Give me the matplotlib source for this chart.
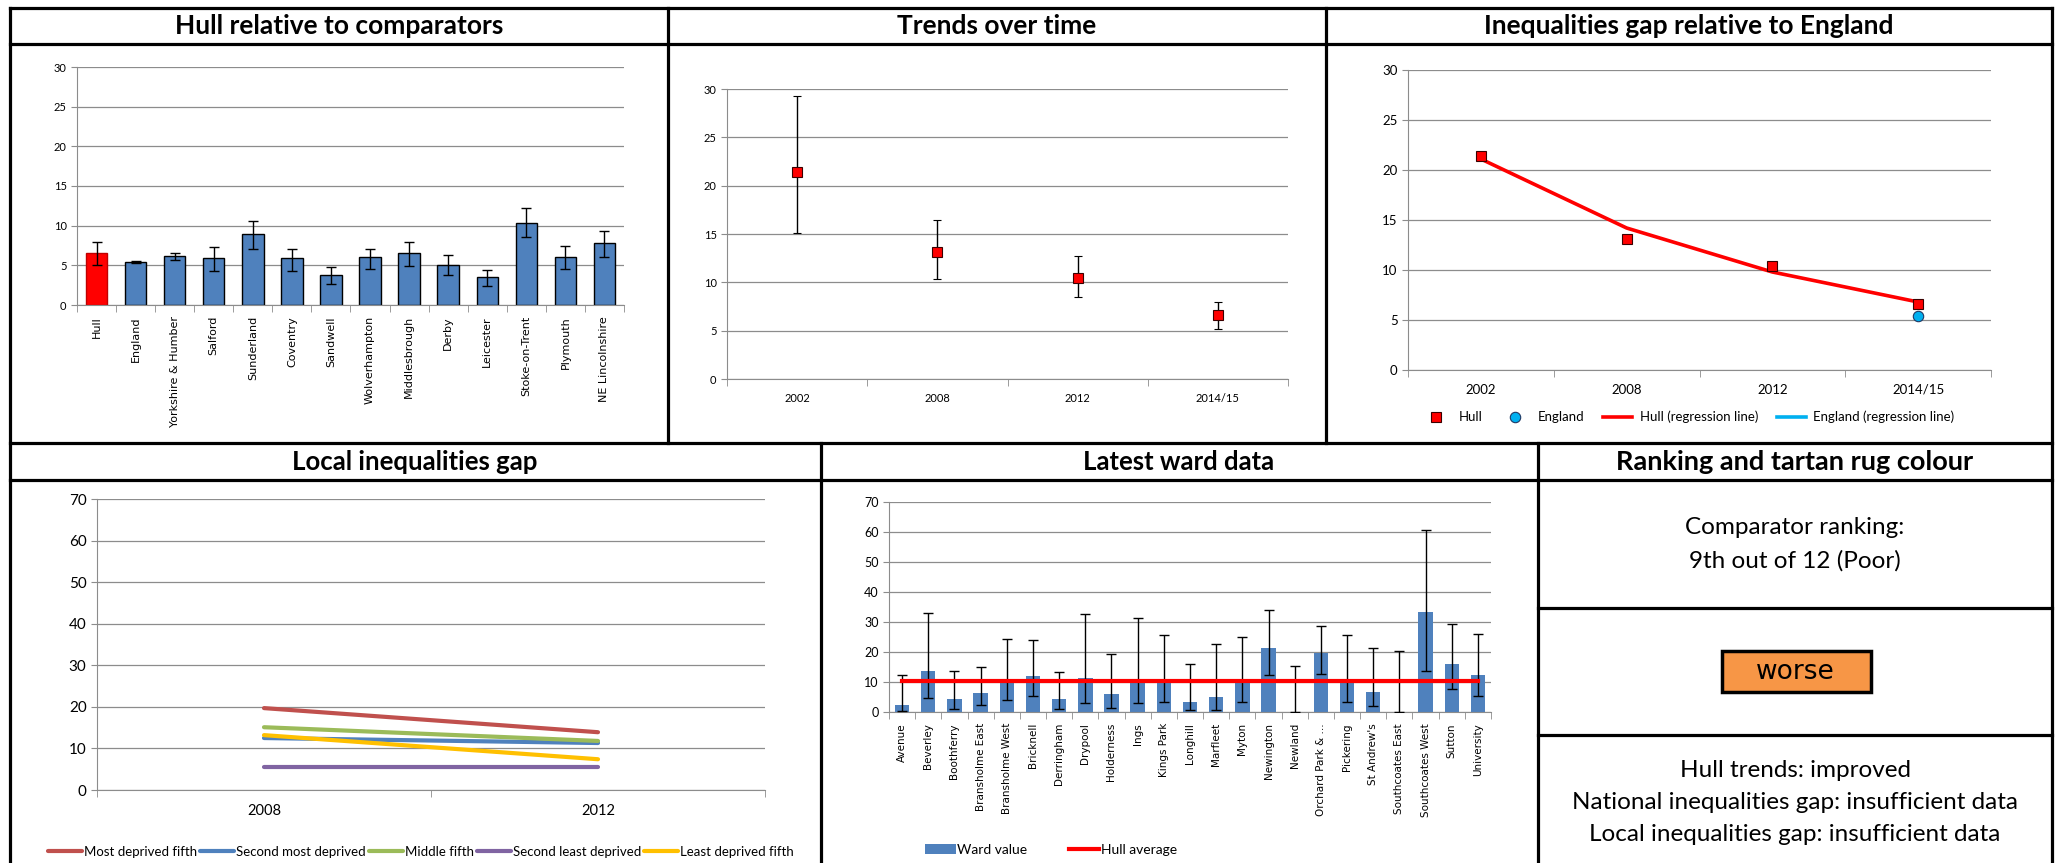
import matplotlib.pyplot as plt
import numpy as np
from matplotlib.lines import Line2D
from matplotlib.patches import Rectangle

W, H = 2060, 863

# Hull relative to comparators
areas = ['Hull', 'England', 'Yorkshire & Humber', 'Salford', 'Sunderland', 'Coventry', 'Sandwell',
         'Wolverhampton', 'Middlesbrough', 'Derby', 'Leicester', 'Stoke-on-Trent', 'Plymouth',
         'NE Lincolnshire']
area_val = [6.6, 5.4, 6.2, 5.9, 8.9, 5.9, 3.8, 6.0, 6.5, 5.1, 3.5, 10.3, 6.1, 7.8]
area_lo = [5.1, 5.3, 5.7, 4.3, 7.0, 4.3, 2.6, 4.6, 4.9, 3.8, 2.4, 8.6, 4.5, 6.1]
area_hi = [8.0, 5.5, 6.6, 7.3, 10.6, 7.1, 4.8, 7.1, 8.0, 6.3, 4.4, 12.2, 7.4, 9.3]

# trends over time / inequalities gap
years = ['2002', '2008', '2012', '2014/15']
hull_val = [21.4, 13.1, 10.4, 6.6]
hull_lo = [15.1, 10.3, 8.5, 5.2]
hull_hi = [29.3, 16.4, 12.7, 8.0]
hull_reg = [21.1, 14.2, 9.8, 6.8]
england_val = [np.nan, np.nan, np.nan, 5.4]

# local inequalities gap
local_years = ['2008', '2012']
most_deprived = [19.7, 13.9]
second_most = [12.5, 11.3]
middle_fifth = [15.1, 11.8]
second_least = [5.6, 5.6]
least_deprived = [13.2, 7.4]

# latest ward data
wards = ['Avenue', 'Beverley', 'Boothferry', 'Bransholme East', 'Bransholme West', 'Bricknell',
         'Derringham', 'Drypool', 'Holderness', 'Ings', 'Kings Park', 'Longhill', 'Marfleet',
         'Myton', 'Newington', 'Newland', 'Orchard Park & ...', 'Pickering', "St Andrew's",
         'Southcoates East', 'Southcoates West', 'Sutton', 'University']
ward_val = [2.4, 13.6, 4.2, 6.4, 10.3, 12.0, 4.2, 11.3, 6.1, 10.2, 10.2, 3.4, 4.9, 10.2,
            21.3, 0.0, 19.6, 10.2, 6.8, 0.0, 33.3, 16.1, 12.4]
ward_lo = [0.3, 4.8, 1.1, 2.4, 4.1, 5.3, 1.1, 3.0, 1.4, 3.0, 3.3, 0.8, 0.8, 3.3,
           12.4, 0.0, 12.7, 3.3, 1.9, 0.0, 13.8, 7.8, 5.4]
ward_hi = [12.3, 33.1, 13.8, 14.9, 24.2, 23.9, 13.4, 32.8, 19.4, 31.3, 25.8, 16.0, 22.7, 24.9,
           33.9, 15.3, 28.7, 25.8, 21.2, 20.4, 60.7, 29.4, 26.1]
hull_average = 10.4

GRID = '#8c8c8c'
BLUE = '#4F81BD'
TITLE_FONT = 'Lato'

fig = plt.figure(figsize=(W / 100, H / 100), dpi=100)


def px_box(x0, y0, x1, y1):
    return [x0 / W, 1 - y1 / H, (x1 - x0) / W, (y1 - y0) / H]


def fline(x0, y0, x1, y1, lw=2.3):
    fig.add_artist(Line2D([x0 / W, x1 / W], [1 - y0 / H, 1 - y1 / H],
                          transform=fig.transFigure, color='black', lw=lw,
                          solid_capstyle='projecting'))


def style_axes(ax, n, ymax, step, tsize):
    ax.set_xlim(-0.5, n - 0.5)
    ax.set_ylim(0, ymax)
    ax.set_yticks(np.arange(0, ymax + 1, step))
    ax.yaxis.grid(True, color=GRID, lw=0.9)
    ax.set_axisbelow(True)
    for s in ['top', 'right']:
        ax.spines[s].set_visible(False)
    for s in ['left', 'bottom']:
        ax.spines[s].set_color(GRID)
    ax.set_xticks(np.arange(n))
    ax.set_xticks(np.arange(n + 1) - 0.5, minor=True)
    ax.tick_params(axis='x', which='major', length=0)
    ax.tick_params(axis='x', which='minor', length=5, color=GRID)
    ax.tick_params(axis='y', length=4, color=GRID, labelsize=tsize)
    for lab in ax.get_yticklabels():
        lab.set_fontfamily(TITLE_FONT)


# ---- frame ----
fline(10, 8, 2052, 8)
fline(10, 8, 10, 863)
fline(2052, 8, 2052, 863)
fline(10, 44, 2052, 44)
fline(10, 443, 2052, 443)
fline(10, 480, 2052, 480)
fline(668, 8, 668, 443)
fline(1326, 8, 1326, 443)
fline(821, 443, 821, 863)
fline(1538, 443, 1538, 863)
fline(1538, 608, 2052, 608)
fline(1538, 735, 2052, 735)

titles = [('Hull relative to comparators', 339, 26, 19), ('Trends over time', 997, 26, 19),
          ('Inequalities gap relative to England', 1689, 26, 19),
          ('Local inequalities gap', 415, 462, 18.5),
          ('Latest ward data', 1179, 462, 18.5), ('Ranking and tartan rug colour', 1795, 462, 19.5)]
for t, x, y, fs in titles:
    fig.text(x / W, 1 - y / H, t, ha='center', va='center', fontsize=fs,
             fontweight='bold', family=TITLE_FONT)

# ---- panel 1 ----
ax1 = fig.add_axes(px_box(77, 67, 624, 305))
x = np.arange(len(areas))
cols = ['#FF0000'] + [BLUE] * (len(areas) - 1)
edges = ['#C00000'] + ['black'] * (len(areas) - 1)
ax1.bar(x, area_val, 0.55, color=cols, edgecolor=edges, lw=1, zorder=2)
ax1.errorbar(x, area_val, yerr=[np.subtract(area_val, area_lo), np.subtract(area_hi, area_val)],
             fmt='none', ecolor='black', elinewidth=1, capsize=3.5, zorder=3)
style_axes(ax1, len(areas), 30, 5, 8)
ax1.set_xticklabels(areas, rotation=90, fontsize=8, family='DejaVu Sans')
ax1.tick_params(axis='x', which='major', pad=8)

# ---- panel 2 ----
ax2 = fig.add_axes(px_box(727, 89, 1288, 379))
x = np.arange(len(years))
ax2.errorbar(x, hull_val, yerr=[np.subtract(hull_val, hull_lo), np.subtract(hull_hi, hull_val)],
             fmt='s', color='red', mec='#3a0000', mew=0.8, ms=7, ecolor='black',
             elinewidth=1, capsize=3, zorder=3)
style_axes(ax2, len(years), 30, 5, 8)
ax2.set_xticklabels(years, fontsize=8, family=TITLE_FONT)
ax2.tick_params(axis='x', which='major', pad=10)

# ---- panel 3 ----
ax3 = fig.add_axes(px_box(1408, 70, 1991, 370))
ax3.plot(x, hull_val, 's', color='red', mec='#3a0000', mew=0.8, ms=7, label='Hull', zorder=4)
ax3.plot(x, england_val, 'o', color='#00B0F0', mec='#1f3864', mew=0.8, ms=7.5,
         label='England', zorder=4)
ax3.plot(x, hull_reg, color='red', lw=2.6, label='Hull (regression line)', zorder=3)
ax3.plot([], [], color='#00B0F0', lw=2.6, label='England (regression line)')
style_axes(ax3, len(years), 30, 5, 9.5)
ax3.set_xticklabels(years, fontsize=9.5, family=TITLE_FONT)
ax3.tick_params(axis='x', which='major', pad=10)
ax3.legend(loc='center', bbox_to_anchor=(1688 / W, 1 - 417 / H), bbox_transform=fig.transFigure,
           ncol=4, frameon=False, prop={'family': TITLE_FONT, 'size': 9.5},
           handlelength=2.2, columnspacing=1.4, handletextpad=0.6)

# ---- panel 4 ----
ax4 = fig.add_axes(px_box(97, 499, 765, 790))
x = np.arange(len(local_years))
series = [(most_deprived, '#C0504D', 'Most deprived fifth'),
          (second_most, '#4F81BD', 'Second most deprived'),
          (middle_fifth, '#9BBB59', 'Middle fifth'),
          (second_least, '#8064A2', 'Second least deprived'),
          (least_deprived, '#FFC000', 'Least deprived fifth')]
for vals, c, lab in series:
    ax4.plot(x, vals, color=c, lw=3, label=lab, solid_capstyle='round')
style_axes(ax4, len(local_years), 70, 10, 11)
ax4.set_xticklabels(local_years, fontsize=10.5, family=TITLE_FONT)
ax4.tick_params(axis='x', which='major', pad=10)
ax4.legend(loc='center', bbox_to_anchor=(421 / W, 1 - 852 / H), bbox_transform=fig.transFigure,
           ncol=5, frameon=False, prop={'family': TITLE_FONT, 'size': 9.5},
           handlelength=2.6, columnspacing=0.2, handletextpad=0.15)

# ---- panel 5 ----
ax5 = fig.add_axes(px_box(889, 502, 1491, 712))
x = np.arange(len(wards))
bars = ax5.bar(x, ward_val, 0.55, color=BLUE, label='Ward value', zorder=2)
ax5.errorbar(x, ward_val, yerr=[np.subtract(ward_val, ward_lo), np.subtract(ward_hi, ward_val)],
             fmt='none', ecolor='black', elinewidth=1, capsize=3.5, zorder=3)
avg_line, = ax5.plot(x, [hull_average] * len(wards), color='red', lw=3, label='Hull average',
                     zorder=4)
style_axes(ax5, len(wards), 70, 10, 9)
ax5.set_xticklabels(wards, rotation=90, fontsize=7.5, family='DejaVu Sans')
ax5.tick_params(axis='x', which='major', pad=8)
ax5.legend(handles=[bars, avg_line], loc='center', bbox_to_anchor=(1051 / W, 1 - 850 / H),
           bbox_transform=fig.transFigure, ncol=2, frameon=False,
           prop={'family': TITLE_FONT, 'size': 10},
           handlelength=2.2, columnspacing=3.0, handletextpad=0.1)

# ---- panel 6: ranking text ----
cx = 1795 / W
fig.text(cx, 1 - 528 / H, 'Comparator ranking:', ha='center', va='center', fontsize=17.5,
         family=TITLE_FONT)
fig.text(cx, 1 - 561 / H, '9th out of 12 (Poor)', ha='center', va='center', fontsize=17.5,
         family=TITLE_FONT)
fig.add_artist(Rectangle((1722 / W, 1 - 692 / H), 149 / W, 41 / H, transform=fig.transFigure,
                         facecolor='#F79646', edgecolor='black', lw=2.5))
fig.text(cx, 1 - 672 / H, 'worse', ha='center', va='center', fontsize=19, family='DejaVu Sans')
for t, y in [('Hull trends: improved', 770), ('National inequalities gap: insufficient data', 802),
             ('Local inequalities gap: insufficient data', 834)]:
    fig.text(cx, 1 - y / H, t, ha='center', va='center', fontsize=17.5, family=TITLE_FONT)

fig.savefig('out.png', dpi=100, facecolor='white')
